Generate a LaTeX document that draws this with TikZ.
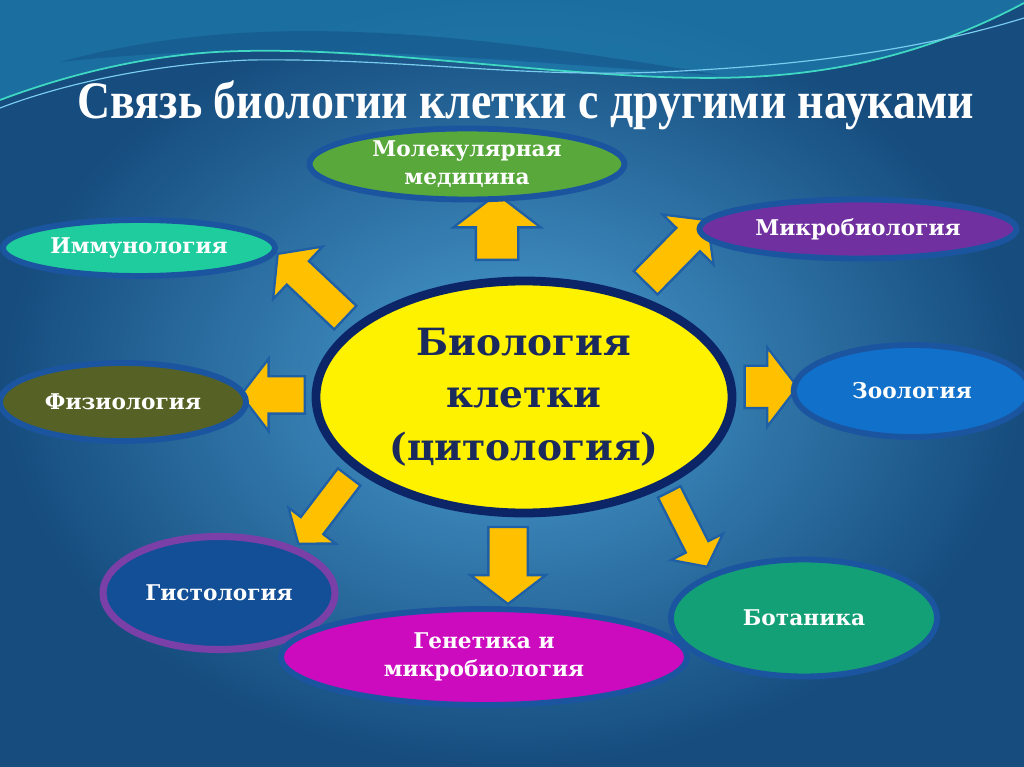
\documentclass[tikz,border=0pt]{standalone}
\usepackage{fontspec}
\setmainfont{Liberation Serif}
\newfontfamily\titlefont[FakeStretch=0.87]{Liberation Serif}
\newfontfamily\labelfont{DejaVu Serif}
\usetikzlibrary{shapes.geometric,shapes.arrows}

\definecolor{bginner}{HTML}{4A9ED2}
\definecolor{bgouter}{HTML}{164C7E}
\definecolor{wavelight}{HTML}{1F86B8}
\definecolor{wavedark}{HTML}{15548A}
\definecolor{swoosh}{HTML}{3FD8C2}
\definecolor{swooshb}{HTML}{79CDEF}
\definecolor{satline}{HTML}{1B55A0}
\definecolor{cellline}{HTML}{0B2566}
\definecolor{celltext}{HTML}{1B2A5C}
\definecolor{arrfill}{HTML}{FFC000}
\definecolor{arrline}{HTML}{1F5FA6}
\definecolor{molgreen}{HTML}{58A83C}
\definecolor{micpurple}{HTML}{7030A0}
\definecolor{immteal}{HTML}{1FCC9E}
\definecolor{phyolive}{HTML}{566126}
\definecolor{zooblue}{HTML}{1070CA}
\definecolor{hisblue}{HTML}{134F96}
\definecolor{hisline}{HTML}{7B3FA8}
\definecolor{genmagenta}{HTML}{CC0BBF}
\definecolor{botgreen}{HTML}{13A077}

\begin{document}
\begin{tikzpicture}[x=0.03cm, y=-0.03cm,
    sci/.style={ellipse, draw=satline, line width=5pt, text=white, inner sep=0pt, align=center,
        font=\labelfont\bfseries\fontsize{18.5}{24}\selectfont},
    blockarrow/.style={single arrow, draw=arrline, fill=arrfill, line width=2pt, inner xsep=0pt,
        single arrow tip angle=105}]
    \useasboundingbox (0,0) rectangle (1024,767);

    % background and the waves on top
    \shade[inner color=bginner, outer color=bgouter] (0,0) rectangle (1024,767);
    \fill[wavelight, opacity=.6] (0,0) -- (1024,0) -- (1024,3)
        .. controls (880,80) and (750,80) .. (660,77)
        .. controls (500,70) and (350,45) .. (216,52)
        .. controls (120,58) and (40,85) .. (0,100) -- cycle;
    \fill[wavedark, opacity=.6] (60,62) .. controls (250,10) and (450,30) .. (720,75)
        .. controls (500,62) and (300,36) .. (60,62) -- cycle;
    \draw[swoosh, line width=1.5pt] (0,100) .. controls (40,85) and (120,58) .. (216,52)
        .. controls (350,45) and (500,70) .. (660,77)
        .. controls (750,80) and (880,80) .. (1024,3);
    \draw[swooshb, line width=1pt] (0,108) .. controls (60,85) and (150,64) .. (250,60)
        .. controls (400,58) and (520,78) .. (660,72)
        .. controls (800,66) and (920,50) .. (1024,18);

    \node (title) [anchor=base, text=white, font=\titlefont\bfseries\fontsize{45}{48}\selectfont] at (526,119)
        {Связь биологии клетки с другими науками};

    % block arrows from the centre outwards
    \node (aUp) [blockarrow, rotate=90, minimum height=1.98cm, inner ysep=0.6cm, single arrow head extend=0.675cm] at (497,235) {};
    \node (aUL) [blockarrow, rotate=136.7, minimum height=2.79cm, inner ysep=0.45cm, single arrow head extend=0.6cm] at (316,290) {};
    \node (aUR) [blockarrow, rotate=45.5, minimum height=2.64cm, inner ysep=0.465cm, single arrow head extend=0.57cm] at (672,256) {};
    \node (aL) [blockarrow, rotate=180, minimum height=1.92cm, inner ysep=0.525cm, single arrow head extend=0.525cm] at (280,395) {};
    \node (aR) [blockarrow, minimum height=1.59cm, inner ysep=0.6cm, single arrow head extend=0.555cm] at (763,387) {};
    \node (aLL) [blockarrow, rotate=-127.3, minimum height=2.52cm, inner ysep=0.39cm, single arrow head extend=0.465cm] at (327,506) {};
    \node (aDn) [blockarrow, rotate=-90, minimum height=2.31cm, inner ysep=0.555cm, single arrow head extend=0.54cm] at (508,558) {};
    \node (aLR) [blockarrow, rotate=-63.1, minimum height=2.52cm, inner ysep=0.345cm, single arrow head extend=0.495cm] at (686,525) {};

    % the sciences
    \node (molmed) [sci, fill=molgreen, minimum width=9.45cm, minimum height=2.13cm, inner ysep=-0.1cm] at (467,164) {Молекулярная\\медицина};
    \node (microbio) [sci, fill=micpurple, minimum width=9.51cm, minimum height=1.77cm] at (858,229) {Микробиология};
    \node (immuno) [sci, fill=immteal, minimum width=8.16cm, minimum height=1.68cm] at (139,248) {Иммунология};
    \node (physio) [sci, fill=phyolive, minimum width=7.38cm, minimum height=2.34cm] at (123,402) {Физиология};
    \node (zoo) [sci, fill=zooblue, minimum width=7.1cm, minimum height=2.76cm] at (912,391) {Зоология};
    \node (histo) [sci, draw=hisline, line width=6pt, fill=hisblue, minimum width=6.96cm, minimum height=3.39cm] at (219,593) {Гистология};
    \node (genetics) [sci, fill=genmagenta, minimum width=12.18cm, minimum height=2.88cm] at (484,657) {Генетика и\\микробиология};
    \node (botany) [sci, fill=botgreen, minimum width=7.98cm, minimum height=3.51cm] at (804,618) {Ботаника};

    % centre
    \node (cell) [ellipse, draw=cellline, line width=7.5pt, fill=yellow, text=celltext, align=center, inner sep=0pt,
        minimum width=12.48cm, minimum height=6.96cm, font=\labelfont\bfseries\fontsize{32}{45}\selectfont] at (524,397)
        {Биология\\клетки\\(цитология)};
\end{tikzpicture}
\end{document}
